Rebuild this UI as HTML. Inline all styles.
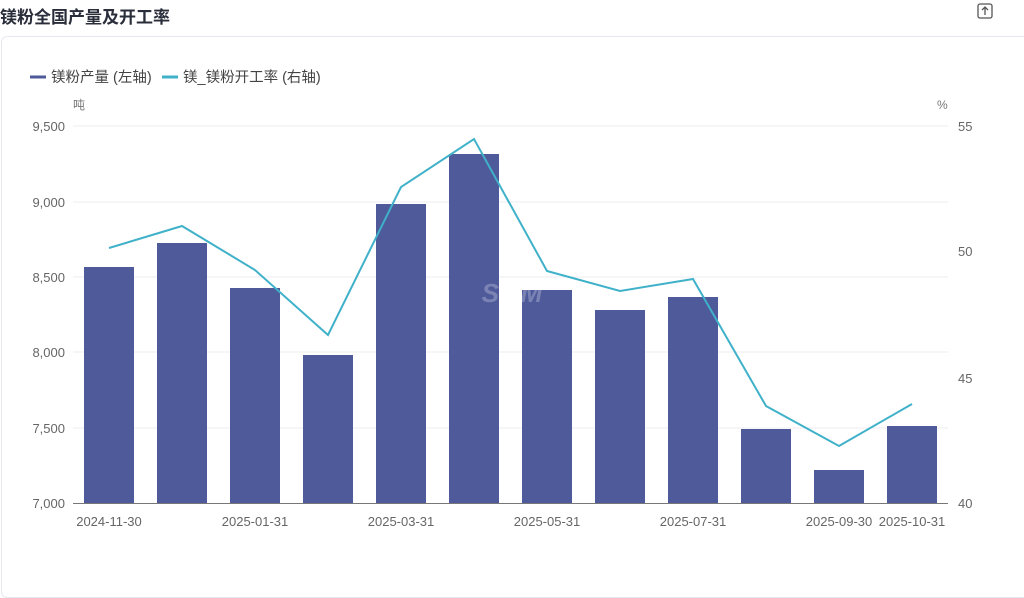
<!DOCTYPE html>
<html><head><meta charset="utf-8"><style>
body{margin:0;width:1024px;height:568px;background:#fff;font-family:"Liberation Sans","Noto Sans CJK SC",sans-serif;overflow:hidden;position:relative}
.title{position:absolute;left:0;top:3px;font-size:17px;font-weight:bold;color:#2a2d3a}
.card{position:absolute;left:1px;top:36px;width:1030px;height:560px;border:1px solid #e6e8ee;border-radius:6px}
svg{position:absolute;left:0;top:0}
</style></head><body>
<div class="title">镁粉全国产量及开工率</div>
<div class="card"></div>
<svg width="1024" height="568" font-family="Liberation Sans, Noto Sans CJK SC, sans-serif">
<rect x="978" y="4" width="14" height="14" rx="2" fill="none" stroke="#555" stroke-width="1.3"/>
<path d="M985 15V8M982 10l3-3 3 3" fill="none" stroke="#555" stroke-width="1.3"/>
<line x1="30" y1="77" x2="46" y2="77" stroke="#4e5a9a" stroke-width="3"/>
<text x="51" y="82" font-size="14.5" fill="#444">镁粉产量 (左轴)</text>
<line x1="162" y1="77" x2="178" y2="77" stroke="#3fb1c9" stroke-width="3"/>
<text x="183" y="82" font-size="14.5" fill="#444">镁_镁粉开工率 (右轴)</text>
<text x="73" y="109" font-size="12" fill="#777">吨</text>
<text x="937" y="109" font-size="12" fill="#777">%</text>
<g stroke="#eceef3" stroke-width="1">
<line x1="73" y1="126" x2="948" y2="126"/><line x1="73" y1="202" x2="948" y2="202"/>
<line x1="73" y1="277" x2="948" y2="277"/><line x1="73" y1="352" x2="948" y2="352"/>
<line x1="73" y1="428" x2="948" y2="428"/></g>
<g font-size="13" fill="#666" text-anchor="end">
<text x="65" y="131">9,500</text><text x="65" y="207">9,000</text><text x="65" y="282">8,500</text>
<text x="65" y="357">8,000</text><text x="65" y="433">7,500</text><text x="65" y="508">7,000</text></g>
<g font-size="13" fill="#666">
<text x="958" y="131">55</text><text x="958" y="256">50</text><text x="958" y="383">45</text><text x="958" y="508">40</text></g>
<g fill="#4e5a9a">
<rect x="84" y="267" width="50" height="236"/><rect x="157" y="243" width="50" height="260"/>
<rect x="230" y="288" width="50" height="215"/><rect x="303" y="355" width="50" height="148"/>
<rect x="376" y="204" width="50" height="299"/><rect x="449" y="154" width="50" height="349"/>
<rect x="522" y="290" width="50" height="213"/><rect x="595" y="310" width="50" height="193"/>
<rect x="668" y="297" width="50" height="206"/><rect x="741" y="429" width="50" height="74"/>
<rect x="814" y="470" width="50" height="33"/><rect x="887" y="426" width="50" height="77"/></g>
<text x="512" y="302" font-size="26" font-weight="bold" fill="#ffffff" fill-opacity="0.25" text-anchor="middle" font-style="italic">SMM</text>
<line x1="73" y1="503.5" x2="948" y2="503.5" stroke="#777" stroke-width="1"/>
<polyline fill="none" stroke="#3fb1c9" stroke-width="2" points="109,248 182,226 255,270 328,335 401,187 474,139 547,271 620,291 693,279 766,406 839,446 912,404"/>
<g font-size="13" fill="#666" text-anchor="middle">
<text x="109" y="526">2024-11-30</text><text x="255" y="526">2025-01-31</text><text x="401" y="526">2025-03-31</text>
<text x="547" y="526">2025-05-31</text><text x="693" y="526">2025-07-31</text><text x="839" y="526">2025-09-30</text><text x="912" y="526">2025-10-31</text></g>
</svg>
</body></html>
